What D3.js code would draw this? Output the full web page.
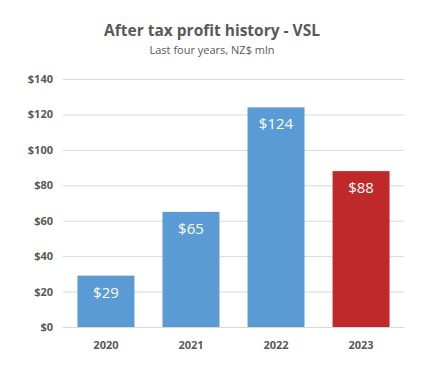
<!DOCTYPE html>
<html lang="en">
<head>
    <meta charset="UTF-8">
    <title></title>
    <style type="text/css">
        html, body { padding:0; margin:0; background:#fff; }
        text { font-family: "Open Sans", "Noto Sans", sans-serif; }
    </style>
</head>
<body>
<script src="https://d3js.org/d3.v7.min.js"></script>
<script>
    var years = ['2020', '2021', '2022', '2023'],
        profits = [29, 65, 124, 88],
        barColors = ['#5B9BD5', '#5B9BD5', '#5B9BD5', '#C0292A'],
        yTicks = [0, 20, 40, 60, 80, 100, 120, 140];

    var width = 426,
        height = 376,
        plotLeft = 63, plotRight = 404,
        plotTop = 79, plotBottom = 327;

    var svg = d3.select('body').append('svg')
                .attr('width', width)
                .attr('height', height);

    var scaleX = d3.scaleBand().domain(years)
                   .range([plotLeft, plotRight]).paddingInner(0.33).paddingOuter(0.17),
        scaleY = d3.scaleLinear().domain([0, 140])
                   .range([plotBottom, plotTop]);

    svg.append('text')
       .attr('x', 212).attr('y', 36)
       .attr('text-anchor', 'middle')
       .attr('font-size', 15.5).attr('font-weight', 'bold')
       .attr('fill', '#595959')
       .text('After tax profit history - VSL');

    svg.append('text')
       .attr('x', 212).attr('y', 54)
       .attr('text-anchor', 'middle')
       .attr('font-size', 11)
       .attr('fill', '#595959')
       .text('Last four years, NZ$ mln');

    // gridlines + y labels
    var axisY = d3.axisLeft(scaleY).tickValues(yTicks)
                  .tickSize(-(plotRight - plotLeft)).tickPadding(10)
                  .tickFormat(function(d) { return '$' + d; });

    var gY = svg.append('g')
       .attr('transform', 'translate(' + plotLeft + ',0)')
       .call(axisY);
    gY.select('.domain').remove();
    gY.selectAll('.tick line').attr('stroke', '#D9D9D9').attr('stroke-width', 1);
    gY.selectAll('.tick text')
      .attr('fill', '#595959').attr('font-size', 11).attr('font-weight', 'bold')
      .attr('font-family', '"Open Sans", sans-serif');

    svg.selectAll('rect.bar')
       .data(profits)
       .enter()
       .append('rect')
       .attr('class', 'bar')
       .attr('x', function(d, i) { return scaleX(years[i]); })
       .attr('y', function(d) { return scaleY(d); })
       .attr('width', scaleX.bandwidth())
       .attr('height', function(d) { return scaleY(0) - scaleY(d); })
       .attr('fill', function(d, i) { return barColors[i]; });

    svg.selectAll('text.val')
       .data(profits)
       .enter()
       .append('text')
       .attr('class', 'val')
       .attr('x', function(d, i) { return scaleX(years[i]) + scaleX.bandwidth() / 2; })
       .attr('y', function(d) { return scaleY(d) + 22; })
       .attr('text-anchor', 'middle')
       .attr('font-size', 15)
       .attr('fill', '#fff')
       .text(function(d) { return '$' + d; });

    var axisX = d3.axisBottom(scaleX).tickSize(0).tickPadding(14);
    var gX = svg.append('g')
       .attr('transform', 'translate(0,' + plotBottom + ')')
       .call(axisX);
    gX.select('.domain').remove();
    gX.selectAll('.tick text')
      .attr('fill', '#595959').attr('font-size', 11).attr('font-weight', 'bold')
      .attr('font-family', '"Open Sans", sans-serif');
</script>
</body>
</html>
